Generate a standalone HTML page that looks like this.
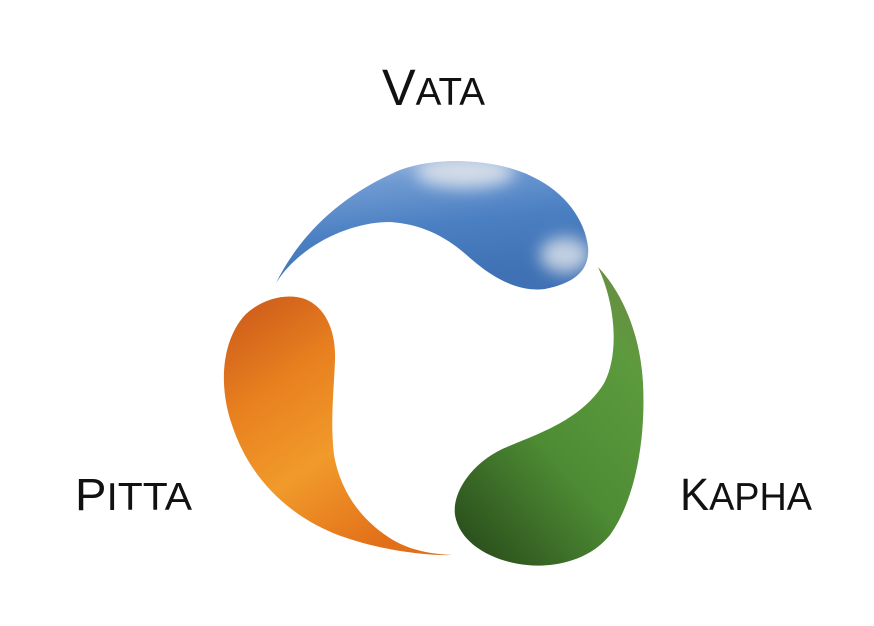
<!DOCTYPE html>
<html><head><meta charset="utf-8"><style>
html,body{margin:0;padding:0;background:#fff;width:874px;height:626px;overflow:hidden}
svg{display:block}
text{font-family:"Liberation Sans",sans-serif;fill:#111}
</style></head><body>
<svg width="874" height="626" viewBox="0 0 874 626">
<defs>
<linearGradient id="gBlue" x1="0" y1="0" x2="0.3" y2="1">
<stop offset="0" stop-color="#a9c1e0"/><stop offset="0.25" stop-color="#6f9ad2"/><stop offset="0.6" stop-color="#4a7fc2"/><stop offset="1" stop-color="#3f71b4"/></linearGradient>
<filter id="blur"><feGaussianBlur stdDeviation="8"/></filter>
<clipPath id="vClip"><path d="M276,283 C295,245 330,200 400,170 C440,155 500,160 533,177 C565,192 585,220 588,247 C590,270 575,283 545,289 C520,292 495,280 470,258 C445,235 420,224 390,222 C350,222 300,245 276,283 Z"/></clipPath>
<linearGradient id="gOrange" x1="0" y1="0" x2="0.6" y2="1">
<stop offset="0" stop-color="#c9561a"/><stop offset="0.35" stop-color="#e8801f"/><stop offset="0.65" stop-color="#f19a2a"/><stop offset="1" stop-color="#e2701a"/></linearGradient>
<linearGradient id="gGreen" x1="0.2" y1="1" x2="0.9" y2="0">
<stop offset="0" stop-color="#2c521d"/><stop offset="0.4" stop-color="#4e8c34"/><stop offset="0.8" stop-color="#5d9a3e"/><stop offset="1" stop-color="#6c8a45"/></linearGradient>
</defs>
<path fill="url(#gBlue)" d="M276,283 C295,245 330,200 400,170 C440,155 500,160 533,177 C565,192 585,220 588,247 C590,270 575,283 545,289 C520,292 495,280 470,258 C445,235 420,224 390,222 C350,222 300,245 276,283 Z"/>
<g clip-path="url(#vClip)" filter="url(#blur)">
<ellipse cx="465" cy="172" rx="50" ry="16" fill="#e4e7ec" opacity="0.85"/>
<ellipse cx="565" cy="255" rx="25" ry="18" fill="#e4e7ec" opacity="0.8"/>
</g>
<path fill="url(#gGreen)" d="M598,267 C620,290 640,330 643,383 C646,440 635,500 610,535 C590,560 555,568 527,565 C495,562 460,545 455,515 C452,490 475,460 507,447 C540,433 580,420 603,385 C618,360 618,310 598,267 Z"/>
<path fill="url(#gOrange)" d="M453,555 C420,556 370,548 333,533 C290,515 250,480 232,425 C218,385 222,340 245,315 C260,300 285,292 305,299 C325,307 336,330 335,360 C334,390 330,420 334,455 C340,490 360,520 393,540 C410,550 430,554 453,555 Z"/>
<text x="382" y="105" textLength="103" lengthAdjust="spacingAndGlyphs"><tspan font-size="51">V</tspan><tspan font-size="39">ATA</tspan></text>
<text x="75" y="510" textLength="117" lengthAdjust="spacingAndGlyphs"><tspan font-size="45">P</tspan><tspan font-size="39">ITTA</tspan></text>
<text x="680" y="510" textLength="132" lengthAdjust="spacingAndGlyphs"><tspan font-size="45">K</tspan><tspan font-size="39">APHA</tspan></text>
</svg>
</body></html>
